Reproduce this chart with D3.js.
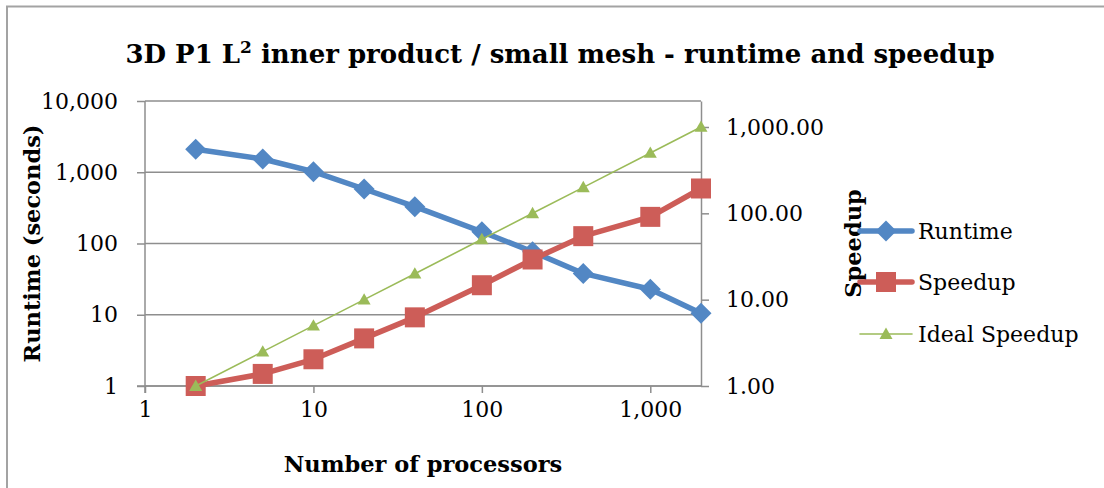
<!DOCTYPE html>
<html>
<head>
<meta charset="utf-8">
<script src="https://cdn.jsdelivr.net/npm/d3@7"></script>
<style>
  html, body { margin: 0; padding: 0; background: #fff; }
  svg { display: block; }
  text { font-family: "DejaVu Serif", "Liberation Serif", serif; fill: #000; }
</style>
</head>
<body>
<svg id="chart" width="1104" height="488"></svg>
<script>
// Processor counts (x) and measured series
const processors   = [2, 5, 10, 20, 40, 100, 200, 400, 1000, 2000];
const runtime      = [2100, 1535, 1018, 582, 329, 146, 76.7, 38, 22.8, 10.5];
const speedup      = [1, 1.38, 2.04, 3.56, 6.24, 14.7, 29.2, 54.4, 91, 194];
const idealSpeedup = [1, 2.5, 5, 10, 20, 50, 100, 200, 500, 1000];

// Axis ticks
const xTicks       = [1, 10, 100, 1000];
const runtimeTicks = [1, 10, 100, 1000, 10000];
const speedTicks   = [1, 10, 100, 1000];

const seriesNames = ["Runtime", "Speedup", "Ideal Speedup"];

const svg = d3.select("#chart");
const W = 1104, H = 488;
const plot = { left: 145, right: 701, top: 101, bottom: 386 };

// Chart frame
svg.append("rect")
  .attr("x", 7).attr("y", 6.5)
  .attr("width", W + 10).attr("height", H + 10)
  .attr("fill", "#fff").attr("stroke", "#a3a3a3").attr("stroke-width", 2);

const x  = d3.scaleLog().domain([1, 2000]).range([plot.left, plot.right]);
const yL = d3.scaleLog().domain([1, 10000]).range([plot.bottom, plot.top]);
const yR = d3.scaleLog().domain([1, 2000]).range([plot.bottom, plot.top]);

const gridColor = "#8e8e8e";
const fmtInt = d3.format(",d");
const fmt2 = d3.format(",.2f");
const labelSize = 22;
const boldSize = 22.5;

// Horizontal gridlines at the runtime decades
svg.append("g").selectAll("line").data(runtimeTicks).join("line")
  .attr("x1", plot.left).attr("x2", plot.right)
  .attr("y1", d => yL(d)).attr("y2", d => yL(d))
  .attr("stroke", gridColor).attr("stroke-width", 1.5);

// Left axis (runtime)
const leftAxis = d3.axisLeft(yL).tickValues(runtimeTicks).tickFormat(fmtInt)
  .tickSizeInner(8).tickSizeOuter(0).tickPadding(19);
const gL = svg.append("g").attr("transform", `translate(${plot.left},0)`).call(leftAxis);

// Right axis (speedup)
const rightAxis = d3.axisRight(yR).tickValues(speedTicks).tickFormat(fmt2)
  .tickSizeInner(8).tickSizeOuter(0).tickPadding(17);
const gR = svg.append("g").attr("transform", `translate(${plot.right},0)`).call(rightAxis);

// Bottom axis (processors)
const bottomAxis = d3.axisBottom(x).tickValues(xTicks).tickFormat(fmtInt)
  .tickSizeInner(7).tickSizeOuter(0).tickPadding(8);
const gB = svg.append("g").attr("transform", `translate(0,${plot.bottom})`).call(bottomAxis);

[gL, gR, gB].forEach(g => {
  g.select(".domain").attr("stroke", gridColor).attr("stroke-width", 1.5);
  g.selectAll(".tick line").attr("stroke", gridColor).attr("stroke-width", 1.5);
  g.selectAll(".tick text").attr("font-family", "DejaVu Serif")
    .attr("font-size", labelSize).attr("fill", "#000");
});
gB.select(".domain").attr("d", `M${plot.left - 8},0H${plot.right}`);
gL.select(".domain").attr("d", `M0,${plot.top}V${plot.bottom + 7}`);

// Title
const title = svg.append("text")
  .attr("x", 560).attr("y", 63)
  .attr("text-anchor", "middle")
  .attr("font-weight", "bold").attr("font-size", 26);
title.append("tspan").text("3D P1 L");
title.append("tspan").attr("dy", -10).attr("font-size", 17).text("2");
title.append("tspan").attr("dy", 10).text(" inner product / small mesh - runtime and speedup");

// Axis titles
svg.append("text")
  .attr("transform", `translate(${32},${(plot.top + plot.bottom) / 2}) rotate(-90)`)
  .attr("text-anchor", "middle").attr("dominant-baseline", "central")
  .attr("font-weight", "bold").attr("font-size", boldSize)
  .text("Runtime (seconds)");

svg.append("text")
  .attr("transform", `translate(${853},${(plot.top + plot.bottom) / 2}) rotate(-90)`)
  .attr("text-anchor", "middle").attr("dominant-baseline", "central")
  .attr("font-weight", "bold").attr("font-size", boldSize)
  .text("Speedup");

svg.append("text")
  .attr("x", (plot.left + plot.right) / 2).attr("y", 464)
  .attr("text-anchor", "middle").attr("dominant-baseline", "central")
  .attr("font-weight", "bold").attr("font-size", boldSize)
  .text("Number of processors");

// Series
const colors = { runtime: "#5287c4", speedup: "#cd5d58", ideal: "#9bbb59" };

const diamond = (g, cx, cy, r, c) => g.append("path")
  .attr("d", `M${cx},${cy - r}L${cx + r},${cy}L${cx},${cy + r}L${cx - r},${cy}Z`)
  .attr("fill", c);
const square = (g, cx, cy, r, c) => g.append("rect")
  .attr("x", cx - r).attr("y", cy - r).attr("width", 2 * r).attr("height", 2 * r)
  .attr("fill", c);
const triangle = (g, cx, cy, r, c) => g.append("path")
  .attr("d", `M${cx},${cy - r}L${cx + r},${cy + r * 0.75}L${cx - r},${cy + r * 0.75}Z`)
  .attr("fill", c);

const series = [
  { vals: runtime,      y: yL, color: colors.runtime, width: 5.5, marker: diamond,  r: 10.5 },
  { vals: speedup,      y: yR, color: colors.speedup, width: 5.5, marker: square,   r: 10 },
  { vals: idealSpeedup, y: yR, color: colors.ideal,   width: 1.6, marker: triangle, r: 6.5 }
];

series.forEach(s => {
  const pts = processors.map((p, i) => [x(p), s.y(s.vals[i])]);
  const g = svg.append("g");
  g.append("path")
    .attr("d", d3.line()(pts))
    .attr("fill", "none").attr("stroke", s.color)
    .attr("stroke-width", s.width).attr("stroke-linejoin", "round");
  pts.forEach(([px, py]) => s.marker(g, px, py, s.r, s.color));
});

// Legend
const legendY = [231, 282, 334];
series.forEach((s, i) => {
  const g = svg.append("g");
  g.append("line")
    .attr("x1", 860).attr("x2", 912)
    .attr("y1", legendY[i]).attr("y2", legendY[i])
    .attr("stroke", s.color).attr("stroke-width", s.width).attr("stroke-linecap", "round");
  s.marker(g, 886, legendY[i], s.r, s.color);
  g.append("text")
    .attr("x", 918).attr("y", legendY[i])
    .attr("dominant-baseline", "central")
    .attr("font-size", labelSize)
    .text(seriesNames[i]);
});
</script>
</body>
</html>
